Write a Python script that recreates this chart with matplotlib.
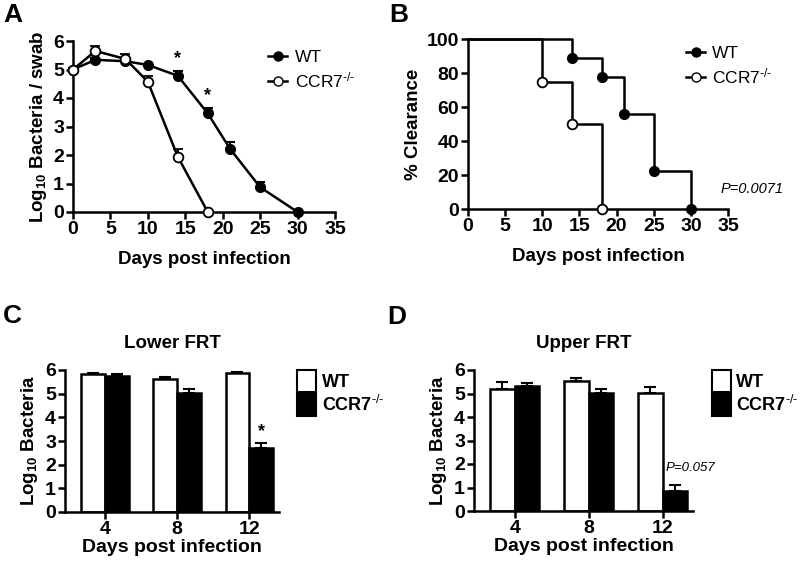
import matplotlib
matplotlib.use("Agg")
import matplotlib.pyplot as plt
from matplotlib.lines import Line2D
from matplotlib.patches import Patch
import numpy as np

plt.rcParams['font.family'] = ['Liberation Sans', 'DejaVu Sans']
plt.rcParams['mathtext.fontset'] = 'custom'
plt.rcParams['mathtext.rm'] = 'Liberation Sans'
plt.rcParams['mathtext.bf'] = 'Liberation Sans:bold'
plt.rcParams['mathtext.it'] = 'Liberation Sans:italic'

# ---- Panel A data ----
days_wt = [0, 3, 7, 10, 14, 18, 21, 25, 30]
log_wt = [5.0, 5.34, 5.29, 5.16, 4.78, 3.46, 2.21, 0.87, 0.0]
err_wt = [0.05, 0.06, 0.06, 0.05, 0.16, 0.18, 0.25, 0.19, 0.0]
days_ko = [0, 3, 7, 10, 14, 18]
log_ko = [5.0, 5.65, 5.37, 4.57, 1.94, 0.0]
err_ko = [0.05, 0.17, 0.17, 0.21, 0.28, 0.0]
star_days_a = [14, 18]
star_y_a = [5.1, 3.8]

# ---- Panel B data (Kaplan-Meier style) ----
km_wt_days = [0, 14, 18, 21, 25, 30]
km_wt_pct = [100, 88.9, 77.8, 55.6, 22.2, 0]
km_ko_days = [0, 10, 14, 18]
km_ko_pct = [100, 75, 50, 0]

# ---- Panel C/D data ----
bar_cats = ['4', '8', '12']
lower_wt = [5.83, 5.62, 5.89]
lower_wt_err = [0.05, 0.09, 0.03]
lower_ko = [5.73, 5.04, 2.70]
lower_ko_err = [0.10, 0.16, 0.22]
upper_wt = [5.20, 5.55, 5.01]
upper_wt_err = [0.28, 0.11, 0.28]
upper_ko = [5.30, 5.01, 0.87]
upper_ko_err = [0.14, 0.18, 0.25]

W, H = 800, 564
fig = plt.figure(figsize=(8, 5.64), dpi=100)

def ax_px(l, r, t, b):
    return fig.add_axes([l / W, 1 - b / H, (r - l) / W, (b - t) / H])

LW = 1.8
TICKFS = 14
LABFS = 13.5

def style(ax):
    for s in ['top', 'right']:
        ax.spines[s].set_visible(False)
    for s in ['left', 'bottom']:
        ax.spines[s].set_linewidth(LW)
    ax.tick_params(width=LW, length=5, labelsize=TICKFS, direction='out', pad=1.5)
    for lab in ax.get_xticklabels() + ax.get_yticklabels():
        lab.set_fontweight('bold')

ko_label = r'CCR7$^{\text{-/-}}$'
ko_label_b = r'CCR7$^{\mathbf{\text{-/-}}}$'

# ===== Panel A =====
axA = ax_px(73, 335, 41, 212)
axA.errorbar(days_wt, log_wt, yerr=[np.zeros(len(err_wt)), err_wt], color='black',
             marker='o', ms=7, mfc='black', mec='black', lw=LW, capsize=3.5, capthick=1.5,
             elinewidth=1.5, clip_on=False, zorder=3)
axA.errorbar(days_ko, log_ko, yerr=[np.zeros(len(err_ko)), err_ko], color='black',
             marker='o', ms=7, mfc='white', mec='black', mew=1.3, lw=LW, capsize=3.5,
             capthick=1.5, elinewidth=1.5, clip_on=False, zorder=4)
for d, y in zip(star_days_a, star_y_a):
    axA.text(d, y, '*', ha='center', va='bottom', fontsize=13, fontweight='bold')
axA.set_xlim(0, 35)
axA.set_ylim(0, 6)
axA.set_xticks(range(0, 36, 5))
axA.set_yticks(range(0, 7))
axA.set_xlabel('Days post infection', fontsize=LABFS, fontweight='bold', labelpad=9)
axA.set_ylabel(r'Log$_{\mathbf{10}}$ Bacteria / swab', fontsize=LABFS, fontweight='bold', labelpad=3)
style(axA)
hA = [Line2D([], [], color='black', marker='o', ms=6.5, mfc='black', lw=LW),
      Line2D([], [], color='black', marker='o', ms=6.5, mfc='white', lw=LW)]
axA.legend(hA, ['WT', ko_label], loc='center left', bbox_to_anchor=(0.745, 0.83),
           frameon=False, fontsize=12.5, handlelength=1.1, handletextpad=0.45,
           labelspacing=0.3, borderaxespad=0, borderpad=0)

# ===== Panel B =====
axB = ax_px(468, 728, 39, 209)
axB.step(km_wt_days, km_wt_pct, where='post', color='black', lw=LW, clip_on=False)
axB.step(km_ko_days, km_ko_pct, where='post', color='black', lw=LW, clip_on=False)
axB.plot(km_wt_days[1:], km_wt_pct[1:], 'o', color='black', ms=7, clip_on=False, zorder=3)
axB.plot(km_ko_days[1:], km_ko_pct[1:], 'o', mfc='white', mec='black', mew=1.3, ms=7,
         clip_on=False, zorder=4)
axB.text(38.2, 11.5, 'P=0.0071', fontsize=10.5, fontstyle='italic', ha='center', va='center')
axB.set_xlim(0, 35)
axB.set_ylim(0, 100)
axB.set_xticks(range(0, 36, 5))
axB.set_yticks(range(0, 101, 20))
axB.set_xlabel('Days post infection', fontsize=LABFS, fontweight='bold', labelpad=9)
axB.set_ylabel('% Clearance', fontsize=LABFS, fontweight='bold', labelpad=3)
style(axB)
axB.legend(hA, ['WT', ko_label], loc='center left', bbox_to_anchor=(0.84, 0.84),
           frameon=False, fontsize=12.5, handlelength=1.1, handletextpad=0.35,
           labelspacing=0.3, borderaxespad=0, borderpad=0)

# ===== Panels C and D =====
def bar_panel(ax, wt, wte, ko, koe, title):
    x = np.arange(len(bar_cats))
    bw = 0.33
    ax.bar(x - bw / 2, wt, bw, color='white', edgecolor='black', lw=LW, zorder=2)
    ax.bar(x + bw / 2, ko, bw, color='black', edgecolor='black', lw=LW, zorder=2)
    ax.errorbar(x - bw / 2, wt, yerr=[np.zeros(3), wte], fmt='none', ecolor='black',
                capsize=4.5, capthick=1.5, elinewidth=1.5, zorder=1)
    ax.errorbar(x + bw / 2, ko, yerr=[np.zeros(3), koe], fmt='none', ecolor='black',
                capsize=4.5, capthick=1.5, elinewidth=1.5, zorder=1)
    ax.set_xlim(-0.55, 2.41)
    ax.set_ylim(0, 6)
    ax.set_xticks(x)
    ax.set_xticklabels(bar_cats)
    ax.set_yticks(range(0, 7))
    ax.set_xlabel('Days post infection', fontsize=14, fontweight='bold', labelpad=0.5)
    ax.set_ylabel(r'Log$_{\mathbf{10}}$ Bacteria', fontsize=LABFS, fontweight='bold', labelpad=4)
    ax.set_title(title, fontsize=13.5, fontweight='bold', pad=16)
    style(ax)
    hb = [Patch(facecolor='white', edgecolor='black', lw=1.5),
          Patch(facecolor='black', edgecolor='black', lw=1.5)]
    ax.legend(hb, ['WT', ko_label_b], loc='upper left', bbox_to_anchor=(1.085, 1.0),
              frameon=False, handlelength=1.05, handleheight=1.5,
              handletextpad=0.3, labelspacing=0.1, borderaxespad=0, borderpad=0,
              prop={'weight': 'bold', 'size': 13})
    return x, bw

axC = ax_px(65, 279, 370, 512)
x, bw = bar_panel(axC, lower_wt, lower_wt_err, lower_ko, lower_ko_err, 'Lower FRT')
axC.text(x[2] + bw / 2, 3.05, '*', ha='center', va='bottom', fontsize=13, fontweight='bold')

axD = ax_px(474, 693, 370, 511)
x, bw = bar_panel(axD, upper_wt, upper_wt_err, upper_ko, upper_ko_err, 'Upper FRT')
axD.text(2.37, 1.85, 'P=0.057', ha='center', va='center', fontsize=9.5,
         fontstyle='italic')

# Panel letters
for lbl, px, py in [('A', 3, 3), ('B', 389, 3), ('C', 3, 304), ('D', 387, 305)]:
    fig.text(px / W, 1 - py / H, lbl, fontsize=19, fontweight='bold', ha='left', va='top')

fig.savefig('out.png', dpi=100)
